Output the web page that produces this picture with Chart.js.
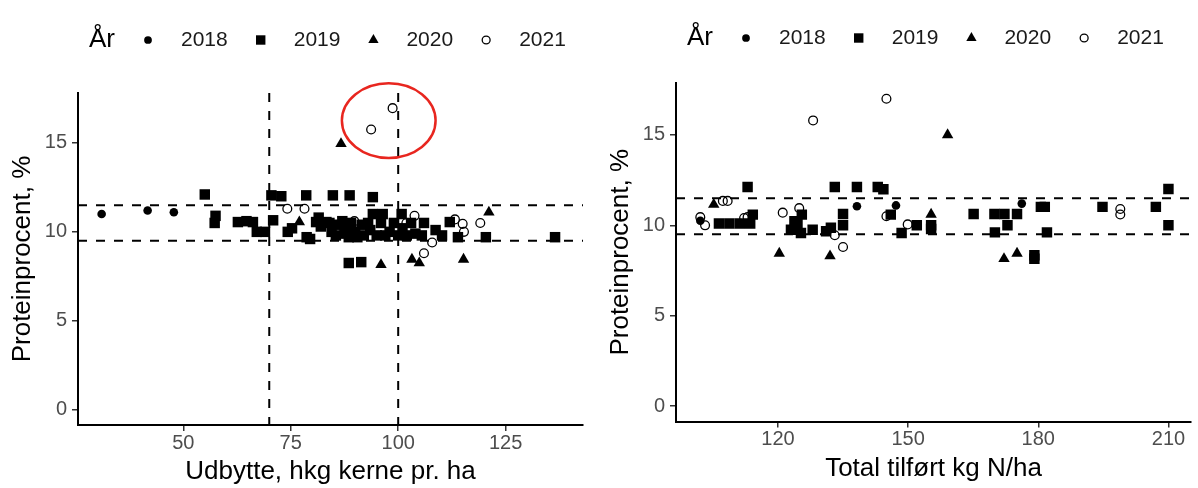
<!DOCTYPE html>
<html lang="da">
<head>
<meta charset="UTF-8">
<title>Proteinprocent</title>
<script src="https://cdn.jsdelivr.net/npm/chart.js"></script>
<style>
  body { margin: 0; background: #fff; }
  .panel { position: absolute; top: 0; height: 488px; }
  #left { left: 0; width: 600px; }
  #right { left: 600px; width: 598px; }
</style>
</head>
<body>
<div class="panel" id="left"><canvas id="chartLeft" width="600" height="488"></canvas></div>
<div class="panel" id="right"><canvas id="chartRight" width="598" height="488"></canvas></div>
<script>
// --- data ---------------------------------------------------------------
const legendTitle = 'År';
const years = ['2018', '2019', '2020', '2021'];

const yTicks = [0, 5, 10, 15];
const xTicksLeft = [50, 75, 100, 125];
const xTicksRight = [120, 150, 180, 210];
const hLines = [9.5, 11.5];
const vLinesLeft = [70, 100];
// red ring around the two high 2021 points: centre x, centre y, half width, half height (data units)
const highlightLeft = [97.8, 16.25, 10.9, 2.1];

// left: udbytte (hkg/ha) vs protein (%)
const left2018 = [[31.0, 11.0], [41.7, 11.2], [47.8, 11.1]];
const left2019 = [
  [55.0, 12.1], [57.5, 10.9], [57.3, 10.5], [62.7, 10.55], [64.7, 10.6], [66.2, 10.55],
  [67.1, 10.0], [69.0, 10.0], [70.5, 12.05], [70.9, 10.65], [72.8, 12.0], [74.3, 10.0],
  [75.3, 10.2], [78.6, 12.05], [78.7, 9.7], [79.5, 9.6], [80.9, 10.55], [81.5, 10.8],
  [83.3, 10.55], [84.8, 12.05], [88.7, 12.05], [94.1, 11.95], [88.5, 8.25], [91.4, 8.3],
  [94.1, 11.0], [96.4, 11.0], [100.8, 11.0], [105.5, 9.8], [108.7, 10.1], [110.2, 9.8],
  [112.0, 10.55], [113.9, 9.7], [120.4, 9.7], [136.5, 9.7],
  [82.0, 10.3], [84.0, 10.5], [84.5, 10.0], [85.5, 9.8], [86.0, 10.4], [87.0, 10.6],
  [87.5, 9.9], [88.0, 10.2], [88.5, 9.7], [89.0, 10.5], [90.0, 10.0], [90.5, 9.7],
  [91.5, 10.4], [92.0, 9.8], [93.0, 10.5], [93.5, 10.1], [95.0, 9.8], [96.0, 10.5],
  [97.0, 9.8], [98.0, 10.0], [99.0, 10.5], [100.0, 9.8], [101.0, 10.2], [102.0, 9.8],
  [103.0, 10.5], [104.0, 9.9], [106.0, 10.5]
];
const left2020 = [[77.0, 10.55], [86.7, 14.95], [121.1, 11.1], [96.0, 8.15], [103.2, 8.45], [104.9, 8.25], [115.2, 8.45]];
const left2021 = [
  [74.2, 11.3], [78.2, 11.3], [89.8, 10.6], [93.7, 15.75], [98.7, 16.95], [101.9, 10.5],
  [103.8, 10.9], [106.0, 8.8], [107.9, 9.4], [113.2, 10.7], [115.0, 10.45], [115.3, 10.0], [119.1, 10.5]
];

// right: total tilført N (kg/ha) vs protein (%)
const right2018 = [[102.1, 10.25], [138.2, 11.05], [147.2, 11.1], [176.2, 11.2]];
const right2019 = [
  [106.4, 10.1], [108.8, 10.1], [111.2, 10.1], [113.6, 10.1], [113.0, 12.12], [114.2, 10.59],
  [123.0, 9.76], [123.8, 10.22], [124.5, 10.13], [125.3, 9.58], [125.5, 10.59], [128.0, 9.76],
  [131.1, 9.67], [132.2, 9.86], [133.1, 12.12], [135.0, 10.63], [135.0, 10.0], [138.2, 12.12],
  [143.0, 12.12], [144.3, 12.0], [146.0, 10.59], [148.5, 9.58], [152.0, 10.0], [155.3, 10.0],
  [155.3, 9.8], [165.1, 10.63], [169.9, 10.63], [172.2, 10.63], [175.1, 10.63], [172.9, 10.0],
  [170.0, 9.61], [180.6, 11.02], [181.5, 11.02], [182.0, 9.61], [179.1, 8.35], [179.1, 8.15],
  [194.8, 11.02], [207.1, 11.02], [210.0, 12.01], [210.0, 10.0]
];
const right2020 = [[105.2, 11.15], [120.3, 8.45], [132.0, 8.3], [155.3, 10.6], [159.1, 15.0], [172.1, 8.15], [175.1, 8.45]];
const right2021 = [
  [102.1, 10.45], [103.2, 10.0], [107.3, 11.35], [108.4, 11.35], [112.2, 10.4], [113.0, 10.45],
  [121.1, 10.7], [124.9, 10.95], [128.1, 15.8], [133.1, 9.45], [135.0, 8.8], [145.0, 17.0],
  [145.0, 10.5], [149.9, 10.05], [198.9, 10.9], [198.9, 10.6]
];

// --- styling ------------------------------------------------------------
const FONT = '"Liberation Sans", Arial, sans-serif';
Chart.defaults.font.family = FONT;

const markers = [
  { pointStyle: 'circle', pointRadius: 4.3, backgroundColor: '#000', borderWidth: 0 },
  { pointStyle: 'rect', pointRadius: 7.4, backgroundColor: '#000', borderWidth: 0 },
  { pointStyle: 'triangle', pointRadius: 6.6, backgroundColor: '#000', borderWidth: 0 },
  { pointStyle: 'circle', pointRadius: 4.4, backgroundColor: 'rgba(0,0,0,0)', borderWidth: 1.3 }
];

function makeDatasets(series) {
  return series.map((pts, i) => Object.assign({
    label: years[i],
    data: pts.map(p => ({ x: p[0], y: p[1] })),
    borderColor: '#000',
    pointHoverRadius: markers[i].pointRadius
  }, markers[i]));
}

// legend drawn in one row: "År  ● 2018  ■ 2019 ..."
const yearLegend = {
  id: 'yearLegend',
  afterDraw(chart, args, opts) {
    const ctx = chart.ctx;
    ctx.save();
    ctx.textBaseline = 'middle';
    ctx.textAlign = 'left';
    ctx.fillStyle = '#000';
    ctx.font = '26px ' + FONT;
    let x = opts.x;
    ctx.fillText(legendTitle, x, opts.y);
    x += ctx.measureText(legendTitle).width;
    ctx.font = '21px ' + FONT;
    chart.data.datasets.forEach(ds => {
      x += 33;
      ctx.fillStyle = ds.backgroundColor;
      ctx.strokeStyle = ds.borderColor;
      ctx.lineWidth = ds.borderWidth;
      Chart.helpers.drawPoint(ctx, {
        pointStyle: ds.pointStyle, radius: ds.pointRadius * 0.9, borderWidth: ds.borderWidth, rotation: 0
      }, x, opts.y);
      x += 33;
      ctx.fillStyle = '#1a1a1a';
      ctx.fillText(ds.label, x, opts.y);
      x += ctx.measureText(ds.label).width;
    });
    ctx.restore();
  }
};

// dashed reference lines + optional red highlight ring
const refLines = {
  id: 'refLines',
  afterDatasetsDraw(chart, args, opts) {
    const { ctx, chartArea: a, scales: { x, y } } = chart;
    ctx.save();
    ctx.strokeStyle = '#000';
    ctx.lineWidth = 2;
    ctx.setLineDash([9, 9]);
    (opts.h || []).forEach(v => {
      const py = y.getPixelForValue(v);
      ctx.beginPath(); ctx.moveTo(a.left, py); ctx.lineTo(a.right, py); ctx.stroke();
    });
    (opts.v || []).forEach(v => {
      const px = x.getPixelForValue(v);
      ctx.beginPath(); ctx.moveTo(px, a.top); ctx.lineTo(px, a.bottom); ctx.stroke();
    });
    if (opts.ring) {
      const [cx, cy, rx, ry] = opts.ring;
      const px = x.getPixelForValue(cx), py = y.getPixelForValue(cy);
      const w = Math.abs(x.getPixelForValue(cx + rx) - px);
      const h = Math.abs(y.getPixelForValue(cy + ry) - py);
      ctx.setLineDash([]);
      ctx.strokeStyle = '#e8261f';
      ctx.lineWidth = 2.5;
      ctx.beginPath();
      ctx.ellipse(px, py, w, h, 0, 0, Math.PI * 2);
      ctx.stroke();
    }
    ctx.restore();
  }
};

function axisCommon() {
  return {
    type: 'linear',
    border: { display: true, color: '#000', width: 2 },
    grid: { display: true, drawOnChartArea: false, drawTicks: true, tickLength: 6, color: '#333', lineWidth: 1.5 },
    ticks: { color: '#4d4d4d', font: { size: 20 }, autoSkip: false }
  };
}

function makeChart(id, cfg) {
  const xAxis = axisCommon();
  Object.assign(xAxis, {
    min: cfg.xMin, max: cfg.xMax,
    afterBuildTicks: s => { s.ticks = cfg.xTicks.map(v => ({ value: v })); },
    afterFit: s => { s.height = cfg.xHeight; },
    title: { display: true, text: cfg.xTitle, color: '#000', font: { size: 26 }, padding: { top: 0, bottom: cfg.xTitlePad } }
  });
  xAxis.ticks.padding = 0;
  const yAxis = axisCommon();
  Object.assign(yAxis, {
    min: cfg.yMin, max: cfg.yMax,
    afterBuildTicks: s => { s.ticks = yTicks.map(v => ({ value: v })); },
    afterFit: s => { s.width = cfg.yWidth; },
    title: { display: true, text: 'Proteinprocent, %', color: '#000', font: { size: 26 }, padding: { top: cfg.yTitlePad, bottom: 0 } }
  });
  yAxis.ticks.padding = 5;

  return new Chart(document.getElementById(id), {
    type: 'scatter',
    data: { datasets: makeDatasets(cfg.series) },
    options: {
      responsive: false,
      animation: false,
      events: [],
      layout: { autoPadding: false, padding: { top: cfg.top, right: cfg.right, left: 0, bottom: 0 } },
      scales: { x: xAxis, y: yAxis },
      plugins: {
        legend: { display: false },
        tooltip: { enabled: false },
        yearLegend: { x: cfg.legendX, y: cfg.legendY },
        refLines: { h: hLines, v: cfg.vLines, ring: cfg.ring }
      }
    },
    plugins: [refLines, yearLegend]
  });
}

makeChart('chartLeft', {
  series: [left2018, left2019, left2020, left2021],
  xMin: 25.5, xMax: 143, yMin: -0.85, yMax: 17.8,
  xTicks: xTicksLeft, vLines: vLinesLeft, ring: highlightLeft,
  xTitle: 'Udbytte, hkg kerne pr. ha',
  top: 93, right: 17, yWidth: 78, xHeight: 63, yTitlePad: 7.4, xTitlePad: 1,
  legendX: 89, legendY: 40
});

makeChart('chartRight', {
  series: [right2018, right2019, right2020, right2021],
  xMin: 96.5, xMax: 215.2, yMin: -0.85, yMax: 17.87,
  xTicks: xTicksRight, vLines: [], ring: null,
  xTitle: 'Total tilført kg N/ha',
  top: 83, right: 7, yWidth: 76, xHeight: 66.5, yTitlePad: 5.4, xTitlePad: 4,
  legendX: 87, legendY: 38
});
</script>
</body>
</html>
